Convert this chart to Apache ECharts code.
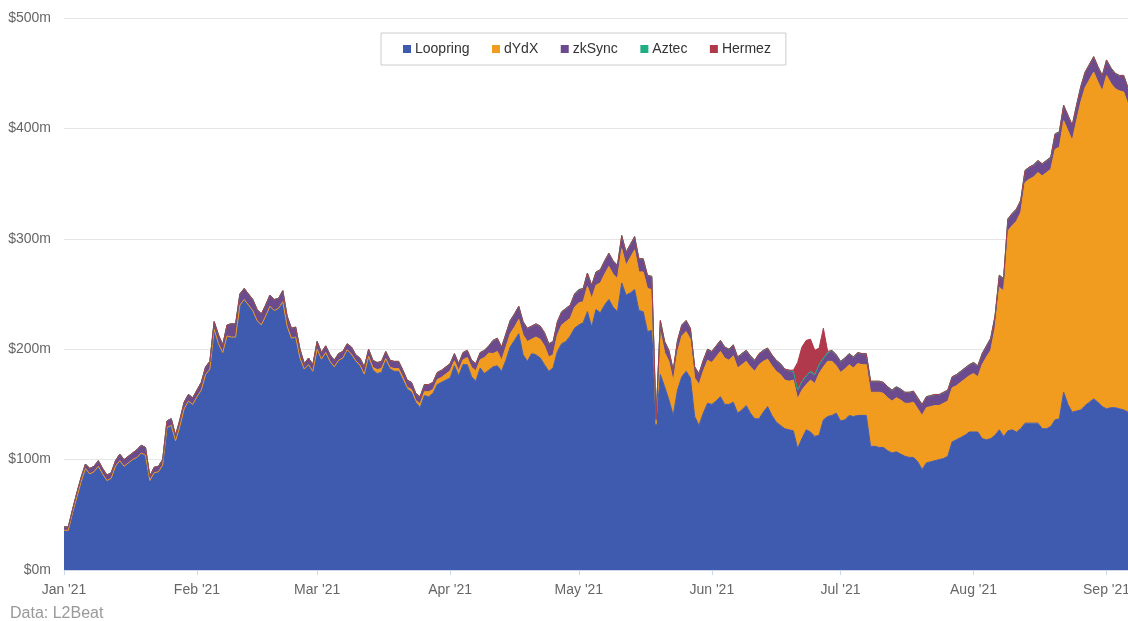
<!DOCTYPE html>
<html>
<head>
<meta charset="utf-8">
<title>TVL by rollup</title>
<script src="https://cdn.jsdelivr.net/npm/echarts@6/dist/echarts.min.js"></script>
<style>
  html, body { margin: 0; padding: 0; background: #fff; }
  #chart { width: 1128px; height: 621px; }
</style>
</head>
<body>
<div id="chart"></div>
<script>
// daily values in $m, starting 2021-01-01
const startDate = [2021, 0, 1]

const loopring = [
  36, 36, 52, 66, 80, 92, 87, 89, 94, 87,
  81, 83, 94, 99, 94, 97, 100, 102, 106, 104,
  81, 88, 89, 95, 129, 131, 117, 130, 146, 153,
  150, 157, 163, 177, 182, 218, 205, 197, 212, 211,
  211, 240, 245, 240, 235, 226, 222, 230, 239, 235,
  237, 243, 221, 210, 211, 192, 182, 186, 180, 200,
  191, 197, 189, 184, 190, 192, 199, 195, 189, 185,
  177, 192, 181, 178, 179, 190, 182, 180, 180, 172,
  164, 161, 152, 147, 158, 157, 160, 168, 170, 172,
  174, 185, 176, 186, 186, 175, 171, 183, 178, 181,
  184, 185, 180, 190, 202, 208, 214, 195, 189, 196,
  195, 192, 186, 180, 183, 198, 205, 207, 212, 219,
  222, 224, 234, 220, 236, 233, 240, 245, 238, 234,
  260, 249, 251, 254, 235, 234, 216, 217, 132, 177,
  166, 154, 140, 163, 175, 180, 174, 139, 131, 142,
  151, 150, 153, 157, 150, 150, 152, 142, 145, 149,
  142, 137, 137, 143, 148, 140, 134, 131, 128, 127,
  126, 110, 119, 127, 125, 121, 122, 136, 139, 140,
  142, 135, 136, 140, 139, 140, 140, 140, 112, 112,
  111, 111, 108, 106, 107, 105, 103, 102, 102, 98,
  91, 97, 98, 99, 100, 101, 103, 116, 118, 120,
  122, 125, 125, 125, 119, 118, 119, 122, 127, 121,
  126, 127, 125, 128, 133, 133, 133, 133, 128, 128,
  130, 136, 137, 161, 150, 143, 144, 145, 149, 152,
  155, 152, 148, 146, 147, 147, 146, 145, 143
]

const dydx = [
  0, 0, 0, 0, 0, 0, 0, 0, 0, 0,
  0, 0, 0, 0, 0, 0, 0, 0, 0, 0,
  0, 0, 0, 0, 0, 0, 0, 0, 0, 0,
  0, 0, 0, 0, 0, 0, 0, 0, 0, 0,
  0, 0, 0, 0, 0, 0, 0, 0, 0, 0,
  0, 0, 0, 0, 0, 0, 0, 0, 0, 0,
  0, 0, 0, 0, 0, 0, 0.5, 0.5, 0.5, 0.5,
  0.5, 1.5, 2.5, 3.5, 3.5, 1.5, 1.5, 2.5, 2.5, 2.5,
  1.5, 2.5, 1.5, 3.5, 3.5, 4.5, 3.5, 4.5, 4.5, 5.5,
  6.5, 4.5, 4.5, 4.5, 6.5, 8.5, 9.5, 7.5, 14.5, 15.5,
  12, 13, 10, 12, 12, 12, 13, 18, 18, 13,
  16, 17, 17, 13, 12, 15, 17, 18, 16, 19,
  20, 19, 23, 26, 22, 27, 28, 30, 30, 30,
  31, 27, 32, 36, 35, 36, 39, 37, 0, 39,
  31, 35, 31, 35, 37, 36, 35, 35, 37, 38,
  39, 38, 40, 41, 42, 40, 42, 41, 41, 40,
  42, 43, 49, 46, 43, 45, 46, 46, 44, 44,
  46, 45, 44, 41, 47, 48, 56, 48, 50, 49,
  43, 44, 46, 46, 44, 47, 46, 46, 49, 49,
  50, 49, 48, 47, 49, 49, 48, 49, 50, 48,
  49, 50, 50, 50, 49, 50, 50, 49, 49, 50,
  51, 51, 53, 50, 67, 75, 80, 97, 129, 132,
  181, 185, 191, 196, 218, 221, 223, 227, 229, 232,
  233, 245, 246, 246, 248, 246, 263, 279, 288, 292,
  296, 290, 286, 302, 294, 289, 288, 288, 279
]

const zksync = [
  3, 3, 3, 4, 4, 4, 5, 5, 5, 5,
  5, 5, 5, 6, 6, 6, 6, 7, 7, 7,
  4, 5, 5, 5, 6, 6, 5, 6, 6, 6,
  6, 6, 7, 7, 7, 7, 8, 7, 10, 12,
  12, 10, 10, 10, 10, 10, 10, 10, 10, 10,
  9, 10, 9, 9, 9, 8, 5, 6, 6, 7,
  6, 6, 6, 6, 6, 6, 5, 6, 5, 6,
  6, 6, 6, 6, 6, 6, 6, 6, 6, 6,
  6, 6, 6, 6, 6, 6, 6, 6, 6, 6,
  6, 6, 6, 6, 6, 6, 6, 6, 6, 6,
  11, 11, 11, 11, 11, 11, 11, 11, 11, 11,
  11, 11, 11, 11, 11, 11, 11, 11, 11, 11,
  11, 11, 11, 11, 11, 11, 11, 11, 11, 11,
  11, 11, 11, 11, 11, 11, 11, 11, 4, 9,
  9, 9, 9, 9, 9, 9, 9, 9, 9, 9,
  9, 9, 9, 9, 9, 9, 9, 9, 9, 9,
  9, 9, 9, 9, 9, 9, 9, 9, 9, 9,
  7, 7, 7, 7, 7, 7, 7, 7, 7, 9,
  9, 9, 9, 9, 9, 9, 9, 9, 9, 9,
  9, 9, 9, 9, 9, 9, 9, 9, 9, 9,
  9, 9, 9, 9, 9, 9, 9, 9, 9, 9,
  9, 9, 9, 9, 9, 9, 10, 10, 10, 10,
  10, 10, 10, 10, 10, 10, 10, 10, 10, 10,
  10, 13, 13, 13, 13, 13, 13, 13, 13, 13,
  13, 13, 13, 13, 13, 13, 13, 14, 14
]

const aztec = [
  0, 0, 0, 0, 0, 0, 0, 0, 0, 0,
  0, 0, 0, 0, 0, 0, 0, 0, 0, 0,
  0, 0, 0, 0, 0, 0, 0, 0, 0, 0,
  0, 0, 0, 0, 0, 0, 0, 0, 0, 0,
  0, 0, 0, 0, 0, 0, 0, 0, 0, 0,
  0, 0, 0, 0, 0, 0, 0, 0, 0, 0,
  0, 0, 0, 0, 0, 0, 0.5, 0.5, 0.5, 0.5,
  0.5, 0.5, 0.5, 0.5, 0.5, 0.5, 0.5, 0.5, 0.5, 0.5,
  0.5, 0.5, 0.5, 0.5, 0.5, 0.5, 0.5, 0.5, 0.5, 0.5,
  0.5, 0.5, 0.5, 0.5, 0.5, 0.5, 0.5, 0.5, 0.5, 0.5,
  1, 1, 1, 1, 1, 1, 1, 1, 1, 1,
  1, 1, 1, 1, 1, 1, 1, 1, 1, 1,
  1, 1, 1, 1, 1, 1, 1, 1, 1, 1,
  1, 1, 1, 1, 1, 1, 1, 1, 1, 1,
  1, 1, 1, 1, 1, 1, 1, 1, 1, 1,
  1, 1, 1, 1, 1, 1, 1, 1, 1, 1,
  1, 1, 1, 1, 1, 1, 1, 1, 1, 1,
  1, 1, 1, 1, 1, 1, 1, 1, 1, 1,
  1, 1, 1, 1, 1, 1, 1, 1, 1, 1,
  1, 1, 1, 1, 1, 1, 1, 1, 1, 1,
  1, 1, 1, 1, 1, 1, 1, 1, 1, 1,
  1, 1, 1, 1, 1, 1, 1, 1, 1, 1,
  1, 1, 1, 1, 1, 1, 1, 1, 1, 1,
  1, 1, 1, 1, 1, 1, 1, 1, 1, 1,
  1, 1, 1, 1, 1, 1, 1, 1, 1
]

const hermez = [
  0, 0, 0, 0, 0, 0, 0, 0, 0, 0,
  0, 0, 0, 0, 0, 0, 0, 0, 0, 0,
  0, 0, 0, 0, 0, 0, 0, 0, 0, 0,
  0, 0, 0, 0, 0, 0, 0, 0, 0, 0,
  0, 0, 0, 0, 0, 0, 0, 0, 0, 0,
  0, 0, 0, 0, 0, 0, 0, 0, 0, 0,
  0, 0, 0, 0, 0, 0, 0, 0, 0, 0,
  0, 0, 0, 0, 0, 0, 0, 0, 0, 0,
  0, 0, 0, 0, 0, 0, 0, 0, 0, 0,
  0, 0, 0, 0, 0, 0, 0, 0, 0, 0,
  0, 0, 0, 0, 0, 0, 0, 0, 0, 0,
  0, 0, 0, 0, 0, 0, 0, 0, 0, 0,
  0, 0, 0, 0, 0, 0, 0, 0, 0, 0,
  0, 0, 0, 0, 0, 0, 0, 0, 0, 0,
  0, 0, 0, 0, 0, 0, 0, 0, 0, 0,
  0, 0, 0, 0, 0, 0, 0, 0, 0, 0,
  0, 0, 0, 0, 0, 0, 0, 0, 0, 0,
  1, 25, 31, 32, 29, 22, 15, 27, 1, 0,
  0, 0, 0, 0, 0, 0, 0, 0, 0, 0,
  0, 0, 0, 0, 0, 0, 0, 0, 0, 0,
  0, 0, 0, 0, 0, 0, 0, 0, 0, 0,
  0, 0, 0, 0, 0, 0, 0, 0, 0, 0,
  0, 0, 0, 0, 0, 0, 0, 0, 0, 0,
  0, 0, 0, 0, 0, 0, 0, 0, 0, 0,
  0, 0, 0, 0, 0, 0, 0, 0, 0
]

const seriesNames = ['Loopring', 'dYdX', 'zkSync', 'Aztec', 'Hermez']
const seriesValues = [loopring, dydx, zksync, aztec, hermez]
const colors = ['#3f5bb0', '#f19b1f', '#6b4a8d', '#1fae84', '#b0394b']
const monthNames = ['Jan', 'Feb', 'Mar', 'Apr', 'May', 'Jun', 'Jul', 'Aug', 'Sep', 'Oct', 'Nov', 'Dec']

// one category per day
const pad = n => (n < 10 ? '0' + n : '' + n)
const days = loopring.map((v, i) => {
  const d = new Date(startDate[0], startDate[1], startDate[2] + i)
  return d.getFullYear() + '-' + pad(d.getMonth() + 1) + '-' + pad(d.getDate())
})
const isMonthStart = (idx, val) => val.slice(8) === '01'

const font = 'Liberation Sans, Arial, sans-serif'
const chart = echarts.init(document.getElementById('chart'))

const option = {
  animation: false,
  color: colors,
  textStyle: { fontFamily: font },
  legend: {
    data: seriesNames,
    left: 381,
    top: 33,
    padding: [9, 15, 9, 22],
    itemGap: 22.5,
    itemWidth: 8,
    itemHeight: 8,
    icon: 'rect',
    borderColor: '#cccccc',
    borderWidth: 1,
    textStyle: { fontSize: 14, color: '#333', fontFamily: font, padding: [0, 0, 0, -1] }
  },
  grid: { left: 64, right: 0, top: 18, bottom: 51, outerBoundsMode: 'none' },
  xAxis: {
    type: 'category',
    boundaryGap: false,
    data: days,
    axisLine: { lineStyle: { color: '#ccd6eb' } },
    axisTick: { interval: isMonthStart, length: 5, lineStyle: { color: '#ccd6eb' } },
    axisLabel: {
      interval: isMonthStart,
      margin: 13,
      fontSize: 14,
      color: '#666',
      fontFamily: font,
      formatter: v => monthNames[parseInt(v.slice(5, 7), 10) - 1] + " '21"
    },
    splitLine: { show: false }
  },
  yAxis: {
    type: 'value',
    min: 0,
    max: 500,
    interval: 100,
    axisLine: { show: false },
    axisTick: { show: false },
    axisLabel: { margin: 13, fontSize: 14, color: '#666', fontFamily: font, formatter: v => '$' + v + 'm' },
    splitLine: { lineStyle: { color: '#e6e6e6' } }
  },
  graphic: [{
    type: 'text',
    left: 10,
    top: 606,
    style: { text: 'Data: L2Beat', fill: '#999', font: '16px ' + font }
  }],
  series: seriesNames.map((name, i) => ({
    name: name,
    type: 'line',
    stack: 'tvl',
    symbol: 'none',
    data: seriesValues[i],
    lineStyle: { width: 1, color: colors[i] },
    areaStyle: { color: colors[i], opacity: 1 },
    emphasis: { disabled: true }
  }))
}

chart.setOption(option)
</script>
</body>
</html>
